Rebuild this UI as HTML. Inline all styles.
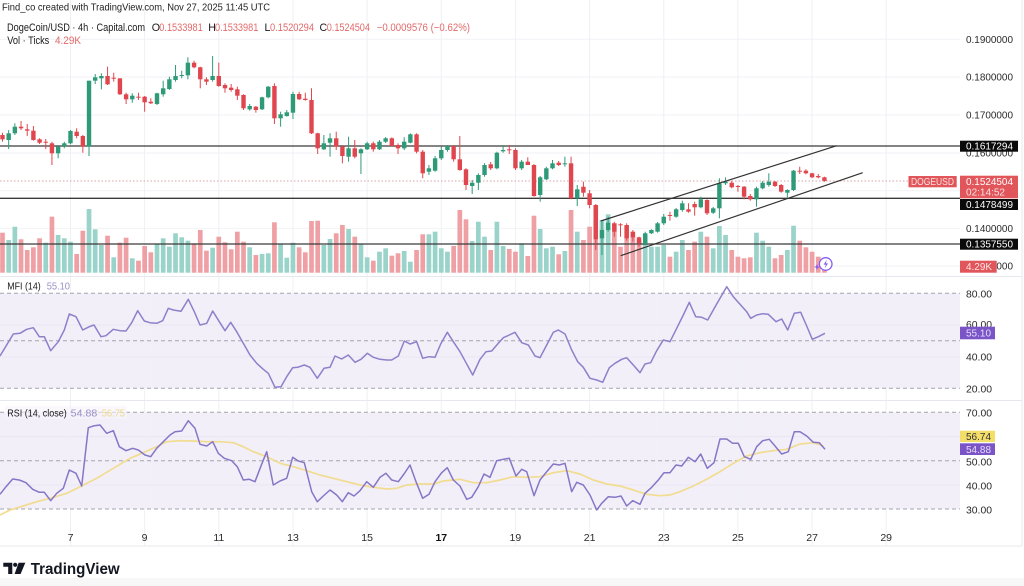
<!DOCTYPE html>
<html>
<head>
<meta charset="utf-8">
<style>
html,body{margin:0;padding:0;background:#fff;}
svg{display:block;}
text{font-family:"Liberation Sans",Arial,sans-serif;}
</style>
</head>
<body>
<svg id="s" width="1024" height="586" viewBox="0 0 1024 586" xmlns="http://www.w3.org/2000/svg">
  <rect x="0" y="0" width="1024" height="586" fill="#ffffff"/>
  <rect x="0" y="578" width="1024" height="8" fill="#f7f7f8"/>

  <!-- grid: main panel horizontal -->
  <g stroke="#f1f2f5" stroke-width="1">
    <line x1="0" y1="39.3" x2="960" y2="39.3"/>
    <line x1="0" y1="77" x2="960" y2="77"/>
    <line x1="0" y1="115" x2="960" y2="115"/>
    <line x1="0" y1="153" x2="960" y2="153"/>
    <line x1="0" y1="190.7" x2="960" y2="190.7"/>
    <line x1="0" y1="228.4" x2="960" y2="228.4"/>
    <line x1="0" y1="266" x2="960" y2="266"/>
  </g>

  <!-- MFI band -->
  <rect x="0" y="293.3" width="960" height="95" fill="#f2eff9"/>
  <!-- RSI band -->
  <rect x="0" y="412.3" width="960" height="96.7" fill="#f2eff9"/>

  <!-- faint sub grid inside bands -->
  <g stroke="#e9e6f3" stroke-width="1">
    <line x1="0" y1="325" x2="960" y2="325"/>
    <line x1="0" y1="357" x2="960" y2="357"/>
    <line x1="0" y1="436.6" x2="960" y2="436.6"/>
    <line x1="0" y1="485" x2="960" y2="485"/>
  </g>

  <!-- vertical grid -->
  <g stroke="#eef0f4" stroke-width="1">
    <line x1="70.5" y1="0" x2="70.5" y2="546"/>
    <line x1="144.6" y1="0" x2="144.6" y2="546"/>
    <line x1="218.8" y1="0" x2="218.8" y2="546"/>
    <line x1="293" y1="0" x2="293" y2="546"/>
    <line x1="367.1" y1="0" x2="367.1" y2="546"/>
    <line x1="441.3" y1="0" x2="441.3" y2="546"/>
    <line x1="515.4" y1="0" x2="515.4" y2="546"/>
    <line x1="589.6" y1="0" x2="589.6" y2="546"/>
    <line x1="663.8" y1="0" x2="663.8" y2="546"/>
    <line x1="737.9" y1="0" x2="737.9" y2="546"/>
    <line x1="812.1" y1="0" x2="812.1" y2="546"/>
    <line x1="886.2" y1="0" x2="886.2" y2="546"/>
  </g>

  <!-- panel separators -->
  <g stroke="#e6e8ee" stroke-width="1">
    <line x1="0" y1="276.5" x2="1022" y2="276.5"/>
    <line x1="0" y1="400.5" x2="1022" y2="400.5"/>
    <line x1="0" y1="546" x2="1022" y2="546"/>
    <line x1="1022" y1="0" x2="1022" y2="546"/>
  </g>

  <!-- dashed levels -->
  <g stroke="#a3a6b0" stroke-width="1" stroke-dasharray="4 3">
    <line x1="0" y1="293.3" x2="960" y2="293.3"/>
    <line x1="0" y1="340.8" x2="960" y2="340.8"/>
    <line x1="0" y1="388.3" x2="960" y2="388.3"/>
    <line x1="0" y1="412.3" x2="960" y2="412.3"/>
    <line x1="0" y1="460.7" x2="960" y2="460.7"/>
    <line x1="0" y1="509" x2="960" y2="509"/>
  </g>

  <!-- volumes and candles (filled by script) -->
  <g id="vol"></g>

  <!-- current price dotted line -->
  <line x1="0" y1="181" x2="908" y2="181" stroke="#d9a3a6" stroke-width="1" stroke-dasharray="1.5 2"/>

  <!-- horizontal levels -->
  <g stroke="#3a3a3a" stroke-width="1.3">
    <line x1="0" y1="146" x2="960" y2="146"/>
    <line x1="0" y1="198.3" x2="960" y2="198.3"/>
    <line x1="0" y1="244" x2="960" y2="244"/>
  </g>

  <g id="cdl"></g>

  <!-- channel -->
  <g stroke="#333" stroke-width="1.2">
    <line x1="600.7" y1="221" x2="836.7" y2="145.7"/>
    <line x1="620.7" y1="255.7" x2="862.7" y2="172.7"/>
  </g>

  <!-- MFI line -->
  <polyline fill="none" stroke="#8e80c9" stroke-width="1.5" stroke-linejoin="round" points="0,356 13.3,334 20,333.3 26.7,329.3 33.3,327.7 39.3,336.7 44.3,336.7 50.7,350.7 58.3,341.7 64.3,330 69.3,314 76,316.7 82.7,330 89.3,326.7 94,325 101,336.7 106,335.7 113.3,329.3 120,330.7 126,331 131.7,322.7 137.7,310.7 144.3,321 150,322.7 156.7,323.3 162.7,320.7 168.3,308.3 173.3,310 181,311.3 188.3,299.3 194.3,311.7 200,325 206.7,323.3 212.7,311 219.3,321.7 225,330.7 230.7,322.3 236.7,331.7 243.3,343.3 250,355 256.7,363.3 263.3,369.3 268.3,373.3 275,387.3 281,386.7 286.7,376.7 292.7,367.7 297.7,367.3 304.3,365 310,367.3 317.3,378.3 324,368.3 330,367.3 335,356 341.7,359 348.3,355 355,362.3 361,359.3 367.3,353.3 373.3,357.3 380,359.3 386.7,360 391.7,360 398.3,356 404.3,341 410,344 416.7,341.7 422.7,358.3 429,356.7 435,357.3 440.7,344 447.3,332.3 453.3,341.7 460,351.7 466,362.7 472.7,375 480,359.3 486,351.7 491.7,351 498.3,343.3 503.3,337.7 509.3,335 515,332.3 521.7,342.7 528.3,345 535,356 540,357.7 546.7,345 553.3,332.3 558.3,330 565,334 571.7,350 577.7,361.7 583.3,367.3 590,378.3 596.7,380 602.7,382.3 609.3,367.7 615,363.3 621.7,359.3 626.7,357.7 633.3,365 640,372.7 645,364 650.7,362.7 656.7,350.7 663.3,340 670,341.7 676.7,328.3 683.3,315 689.3,302.3 695.7,316.7 701.7,317.3 707.7,320 713.3,310 720,298.3 726.7,286.7 733.3,296.7 740,304.3 746.7,311.7 750.7,318.3 756.7,315 762.7,313.7 768.3,314.3 776,321.7 781.7,319 787.7,330 794.3,313.3 800.7,312.3 806.7,326 812.3,339.3 818.3,336.7 825,333.3"/>

  <!-- RSI MA (yellow) -->
  <polyline fill="none" stroke="#f1dc90" stroke-width="1.7" stroke-linejoin="round" points="0,515 10,510 23.3,506 36.7,501.7 50,498.3 66.7,493.3 81.7,486 96.7,478.3 113.3,468.3 130,458.3 143.3,452.7 156.7,446.7 166.7,441.7 180,440.7 193.3,441 206.7,441.7 220,441.7 233.3,442.7 243.3,446.7 253.3,451.7 266.7,456.7 280,463.3 293.3,466.7 306.7,470.7 320,475 333.3,478.3 346.7,481.7 360,485 373.3,487.3 386.7,489 396.7,488.3 406.7,485 420,484 433.3,484 443.3,481 453.3,480 460,479.3 473.3,482.7 486.7,482.7 500,480 513.3,476.7 526.7,477.3 540,476.7 553.3,472.7 566.7,470.7 580,474 593.3,480 606.7,484 620,486 633.3,490 646.7,494.3 660,495.7 670,495 680,491.7 693.3,486 706.7,479.3 720,471.7 733.3,463.3 746.7,456 760,452.7 773.3,450.7 786.7,449.3 800,444 813.3,442.7 823.3,446"/>

  <!-- RSI line -->
  <polyline fill="none" stroke="#8676c6" stroke-width="1.5" stroke-linejoin="round" points="0,494.3 6,486.7 12.7,479 19.3,480 26,482.7 32.7,489.3 39.3,492.3 44.3,492.3 50.7,500.7 56.7,493.3 63.3,488.3 69.3,470 76,473.3 81.7,486 88.3,427.7 94.3,425.7 100,425 106.7,433.3 113.3,430.7 119.3,446.7 126,450.7 132.7,448.3 138.3,450 145,455 150.7,456.7 156.7,448.3 163.3,441.7 170,435 175,431.7 181.7,431 188.3,420.7 195,428.3 200,444.3 206.7,446 212.7,441.7 218.3,453.3 224.3,458.3 231.7,460.7 237.3,466.7 243.3,480 249.3,479.3 255,481.7 260.7,466.7 266.7,451.7 273.3,485 280,481 286.7,478.3 292.7,457.3 298.3,461 304.3,462.7 311.7,491.7 317.3,501.7 323.3,496 330,490 336.7,495 342.3,501.7 348.3,492.7 354,496 360,490.7 366.7,481.7 373.3,487.3 380,477.3 386,473.3 391.7,480 398.3,481.7 404,474 410,465 416,481.7 422.7,498.3 429,494.3 435,481.7 441.7,472.7 447.3,467.7 453.3,480 460,486 466.7,499.3 471.7,497.3 478.3,486.7 484,474 490,477.3 496.7,460.7 503.3,459.3 509.3,458.3 516,476 521.7,469.3 526.7,471.7 534,495.7 540,480 546.7,471.7 553.3,464 559.3,465 565,463.3 571.7,491.7 576.7,482.3 583.3,485 590,495 596.7,510 601.7,503.3 608.3,496.7 615,497.3 621,496 626.7,506 632.7,500.7 640,504.3 645,493.3 651.7,487.3 658.3,480 664,472.7 670,472.7 676,465 681.7,466 688.3,457.3 695,461.7 700.7,454 707.3,468.3 714,462.7 720,439 726.7,439 732.7,443.3 738.3,443.3 744.3,456.7 750.7,459.3 756.7,446.7 762.7,440.7 769.3,439.3 775,446 781.7,454 788.3,451.7 794.3,431.7 800,431.7 806.7,436 813.3,442.3 819.3,442.7 825,449.3"/>

  <!-- lightning icon -->
  <circle cx="825.7" cy="264" r="6.3" fill="#ffffff" stroke="#8a5cf0" stroke-width="1.3"/>
  <path d="M826.8,259.8 L823.6,264.6 L825.8,264.6 L824.8,268.4 L828,263.4 L825.9,263.4 Z" fill="#8a5cf0"/>
  <path d="M817,264 L817.8,266.2 L820,267 L817.8,267.8 L817,270 L816.2,267.8 L814,267 L816.2,266.2 Z" fill="#8a5cf0"/>

  <!-- header -->
  <text x="2" y="10.3" font-size="10.4" fill="#222" textLength="268" lengthAdjust="spacingAndGlyphs">Find_co created with TradingView.com, Nov 27, 2025 11:45 UTC</text>
  <text x="7" y="30.8" font-size="10.6" fill="#1a1a1a" textLength="138" lengthAdjust="spacingAndGlyphs">DogeCoin/USD · 4h · Capital.com</text>
  <text x="151.7" y="30.8" font-size="10.6" fill="#1a1a1a">O</text>
  <text x="159.3" y="30.8" font-size="10.6" fill="#e26a6a" textLength="43.4" lengthAdjust="spacingAndGlyphs">0.1533981</text>
  <text x="208.3" y="30.8" font-size="10.6" fill="#1a1a1a">H</text>
  <text x="215" y="30.8" font-size="10.6" fill="#e26a6a" textLength="43.3" lengthAdjust="spacingAndGlyphs">0.1533981</text>
  <text x="264.5" y="30.8" font-size="10.6" fill="#1a1a1a">L</text>
  <text x="270" y="30.8" font-size="10.6" fill="#e26a6a" textLength="44" lengthAdjust="spacingAndGlyphs">0.1520294</text>
  <text x="319.5" y="30.8" font-size="10.6" fill="#1a1a1a">C</text>
  <text x="326.7" y="30.8" font-size="10.6" fill="#e26a6a" textLength="43.3" lengthAdjust="spacingAndGlyphs">0.1524504</text>
  <text x="376.7" y="30.8" font-size="10.6" fill="#e26a6a" textLength="93.3" lengthAdjust="spacingAndGlyphs">−0.0009576 (−0.62%)</text>
  <text x="7.3" y="44" font-size="10.6" fill="#1a1a1a" textLength="42" lengthAdjust="spacingAndGlyphs">Vol · Ticks</text>
  <text x="55" y="44" font-size="10.6" fill="#e26a6a" textLength="26" lengthAdjust="spacingAndGlyphs">4.29K</text>

  <!-- panel titles -->
  <text x="7.3" y="289.5" font-size="10.5" fill="#1a1a1a" textLength="33.4" lengthAdjust="spacingAndGlyphs">MFI (14)</text>
  <text x="46.7" y="289.5" font-size="10.5" fill="#9a8fc4" textLength="23.3" lengthAdjust="spacingAndGlyphs">55.10</text>
  <rect x="5" y="406" width="122" height="13" fill="#f6f4fb" opacity="0.6"/>
  <text x="7.3" y="416.5" font-size="10.5" fill="#1a1a1a" textLength="59.4" lengthAdjust="spacingAndGlyphs">RSI (14, close)</text>
  <text x="70.7" y="416.5" font-size="10.5" fill="#9a8fc4" textLength="26.6" lengthAdjust="spacingAndGlyphs">54.88</text>
  <text x="101.7" y="416.5" font-size="10.5" fill="#ecd88a" textLength="23.3" lengthAdjust="spacingAndGlyphs">56.75</text>

  <!-- right price axis -->
  <g font-size="10.5" fill="#2a2a2a">
    <text x="966" y="43" textLength="47" lengthAdjust="spacingAndGlyphs">0.1900000</text>
    <text x="966" y="80.7" textLength="47" lengthAdjust="spacingAndGlyphs">0.1800000</text>
    <text x="966" y="118.7" textLength="47" lengthAdjust="spacingAndGlyphs">0.1700000</text>
    <text x="966" y="156.7" textLength="47" lengthAdjust="spacingAndGlyphs">0.1600000</text>
    <text x="966" y="232" textLength="47" lengthAdjust="spacingAndGlyphs">0.1400000</text>
    <text x="966" y="269.7" textLength="47" lengthAdjust="spacingAndGlyphs">0.1300000</text>
  </g>
  <rect x="960" y="140.7" width="58" height="11" fill="#0b0b0b"/>
  <text x="966" y="149.6" font-size="10.5" fill="#fff" textLength="47" lengthAdjust="spacingAndGlyphs">0.1617294</text>
  <rect x="908.5" y="176" width="48.2" height="11.3" fill="#e0565b"/>
  <text x="911" y="185" font-size="10.5" fill="#fbe0e0" textLength="43" lengthAdjust="spacingAndGlyphs">DOGEUSD</text>
  <rect x="960" y="175.7" width="58" height="22.6" fill="#e0565b"/>
  <text x="966" y="185" font-size="10.5" fill="#fff" textLength="47" lengthAdjust="spacingAndGlyphs">0.1524504</text>
  <text x="966" y="195.5" font-size="10.5" fill="#fbe0e0" textLength="39" lengthAdjust="spacingAndGlyphs">02:14:52</text>
  <rect x="960" y="199" width="58" height="11" fill="#0b0b0b"/>
  <text x="966" y="208" font-size="10.5" fill="#fff" textLength="47" lengthAdjust="spacingAndGlyphs">0.1478499</text>
  <rect x="960" y="238.7" width="58" height="11" fill="#0b0b0b"/>
  <text x="966" y="247.6" font-size="10.5" fill="#fff" textLength="47" lengthAdjust="spacingAndGlyphs">0.1357550</text>
  <rect x="960" y="260.7" width="36.7" height="12" fill="#e0565b"/>
  <text x="966" y="270.2" font-size="10.5" fill="#fde4e4" textLength="26" lengthAdjust="spacingAndGlyphs">4.29K</text>

  <!-- MFI axis -->
  <g font-size="10.5" fill="#2a2a2a">
    <text x="966" y="297.5" textLength="26" lengthAdjust="spacingAndGlyphs">80.00</text>
    <text x="966" y="328" textLength="26" lengthAdjust="spacingAndGlyphs">60.00</text>
    <text x="966" y="360.5" textLength="26" lengthAdjust="spacingAndGlyphs">40.00</text>
    <text x="966" y="392.5" textLength="26" lengthAdjust="spacingAndGlyphs">20.00</text>
  </g>
  <rect x="960" y="326.7" width="35" height="12.6" fill="#7b55c7"/>
  <text x="966" y="336.5" font-size="10.5" fill="#e6ddfa" textLength="25" lengthAdjust="spacingAndGlyphs">55.10</text>

  <!-- RSI axis -->
  <g font-size="10.5" fill="#2a2a2a">
    <text x="966" y="416.5" textLength="26" lengthAdjust="spacingAndGlyphs">70.00</text>
    <text x="966" y="465.5" textLength="26" lengthAdjust="spacingAndGlyphs">50.00</text>
    <text x="966" y="489.5" textLength="26" lengthAdjust="spacingAndGlyphs">40.00</text>
    <text x="966" y="513.5" textLength="26" lengthAdjust="spacingAndGlyphs">30.00</text>
  </g>
  <rect x="960" y="430.7" width="35" height="11.4" fill="#f3de6a"/>
  <text x="966" y="440" font-size="10.5" fill="#333" textLength="25" lengthAdjust="spacingAndGlyphs">56.74</text>
  <rect x="960" y="443.3" width="35" height="11.7" fill="#7b55c7"/>
  <text x="966" y="452.8" font-size="10.5" fill="#e6ddfa" textLength="25" lengthAdjust="spacingAndGlyphs">54.88</text>

  <!-- time axis -->
  <g font-size="10.5" fill="#2a2a2a" text-anchor="middle">
    <text x="70.5" y="540.8">7</text>
    <text x="144.6" y="540.8">9</text>
    <text x="218.8" y="540.8">11</text>
    <text x="293" y="540.8">13</text>
    <text x="367.1" y="540.8">15</text>
    <text x="441.3" y="540.8" font-weight="bold" fill="#111">17</text>
    <text x="515.4" y="540.8">19</text>
    <text x="589.6" y="540.8">21</text>
    <text x="663.8" y="540.8">23</text>
    <text x="737.9" y="540.8">25</text>
    <text x="812.1" y="540.8">27</text>
    <text x="886.2" y="540.8">29</text>
  </g>

  <!-- TradingView logo -->
  <g fill="#131722">
    <path d="M3.3,562.7 H12.3 V574 H8.2 V566.8 H3.3 Z"/>
    <circle cx="15.2" cy="564.8" r="2.1"/>
    <path d="M18.6,562.7 H25.3 L20.6,574 H14.6 Z"/>
  </g>
  <text x="30.7" y="574" font-size="15.5" font-weight="bold" fill="#131722" textLength="89" lengthAdjust="spacingAndGlyphs">TradingView</text>
</svg>

<script>
(function(){
var NS="http://www.w3.org/2000/svg";
var C=[
[135,139.3,132.7,141.7,0],[133.3,140,130,149,1],[126.7,133.3,123.3,135,1],[126.7,128.3,121,130,0],[129.3,130.7,124,136,0],
[130.7,140,126,140.7,0],[139.3,142.7,138.3,144,0],[141.7,142.7,139,149,0],[143.3,153.3,141.7,165,0],[146.7,153.3,145,158.3,1],
[143.3,146,141.7,148.3,1],[131,143.3,130,144.3,1],[131.7,136,128.3,138.3,0],[136,146.7,135,152.7,0],[80.7,146.7,80.7,156,1],
[77.3,80.7,74,84,1],[76,78.3,73.3,89.3,1],[76,84.3,66.7,85,0],[77.7,78.7,72.7,81.7,0],[78.3,94.3,78.3,95,0],
[94.3,99.3,92.7,104,0],[95.7,99.3,93.3,102.7,1],[96.7,97.3,92.7,100,0],[96.7,102.3,96,111.7,0],[101.7,103.3,98.3,104,0],
[93.3,104,92.7,105,1],[88.3,94.3,80.7,96.7,1],[79.3,89,76.7,90,1],[76,80,65,81.7,1],[75,76,70.7,78.3,1],
[62.7,75.3,57.3,79.3,1],[62.7,67.3,60.7,68.3,0],[67.3,79.3,66.7,88.3,0],[79.3,81.7,77.3,85,0],[76,80,56,81.7,1],
[76,86,62.7,86.7,0],[85,88.3,83.3,92.7,0],[87.7,90,84,91.7,0],[89.3,95.7,86.7,100,0],[95,108.3,94.3,110,0],
[106,109.3,104,110.7,1],[106.7,110,106,112.7,0],[97.3,109.3,96.7,110,1],[86.7,97.3,86,98.3,1],[86,118.3,83.3,124,0],
[114.3,118.3,111.7,126.7,1],[112.3,116,110,116.7,1],[94,112.7,91.7,119,1],[94,99.3,91.7,100,0],[98.7,100,92.7,100.7,0],
[100,133.3,88.3,134,0],[133.3,148.3,132.7,154,0],[143.3,149.3,135,150,1],[138.3,142.7,133.3,156.7,1],[138.3,146.7,131.7,150,0],
[146.7,156,145,163.3,0],[148.3,156.7,136.7,161.7,1],[148.3,156.7,140,158.3,0],[149.3,153.3,148.3,174,1],[143.3,149.3,141.7,150,1],
[143.3,149.3,141.7,151.7,0],[141.7,149.3,140,150,1],[138.3,141.7,137,143,1],[138.3,146,137.3,146.7,0],[145,148.3,143.3,154,0],
[141.7,148.3,137.3,150,1],[134.3,142.7,133.3,143.3,1],[134.3,151.7,133.3,153.3,0],[151.7,173.3,150,178.3,0],[168.3,171.7,165,175,1],
[158.3,170.7,156,171.7,1],[150,158.3,146.7,160,1],[146,150,145,151.7,1],[146,159.3,145,161.7,0],[159.3,170,136,170.7,0],
[169.3,185,168.3,190,0],[182.7,186,180,194,1],[175,182.7,173.3,190,1],[165,175,163.3,176.7,1],[164.3,168.3,162,170,0],
[152.7,168.3,151.7,169.3,1],[150,151.3,145,152.7,1],[149.3,150,145,154,0],[150,168.3,148.3,170,0],[161.7,168.3,160,170,1],
[161.7,165,157.3,165,0],[165,196,164,196.7,0],[177.3,195,176,201.7,1],[168.3,179.3,166.7,180,1],[163.3,168.3,160,169.3,1],
[162.7,165,161,166,0],[163.3,164.3,156.7,166.7,1],[163.3,198.3,156.7,199.3,0],[189.3,198.3,185,206,1],[186.7,192.7,181.7,196.7,0],
[193.3,205,190,208.3,0],[205,239.3,204,250,0],[230,238.3,221.7,255,1],[222.7,230,216.7,231.7,1],[223.3,231.7,221.7,236.7,0],
[224.3,225,223.3,236.7,0],[225,238.3,223.3,240.7,0],[231.7,237.3,230,241.7,0],[237.3,243.3,236.7,246.7,0],[233.3,244,231.7,245,1],
[230,233.3,229.3,234,1],[223.3,231.7,222,232.7,1],[216.7,223.3,214,225,1],[215,216,211.7,220.7,0],[209.3,216.7,208,217.7,1],
[203.3,210,200.7,211.7,1],[209.3,211.7,203.3,212.7,0],[204,207.3,201.7,215.7,0],[199.3,207.3,196.7,208.3,1],[200,213.3,199.3,215,0],
[208.3,212.7,207,214,1],[183.3,208.3,178.3,218.3,1],[181.7,183.3,177.3,185,1],[182.7,187.3,180.7,188.3,0],[186,186.7,185,191.7,0],
[186.7,196.7,186,199.3,0],[196,199.3,194,200.7,0],[188.3,199.3,186.7,206.7,1],[182.7,188.3,181,189.3,1],[181.7,185,173.3,186.7,1],
[181.7,186,181,187,0],[185,191.7,184,192.7,0],[190,192.7,189.3,197.3,1],[170.7,190,170,191,1],[170.7,171.7,166.7,174,0],
[170.7,173.3,169.3,174.3,0],[173.3,177.3,172.7,178,0],[176,177.3,174,178.3,0],[177.3,180.9,176.7,181.7,0]
];
var V=[
[232.7,0],[240,1],[226.7,1],[239.3,0],[250,0],[247.3,0],[238.3,0],[242.7,1],[216.7,0],[235,1],
[238.3,1],[241.7,1],[254,0],[230.7,0],[209,1],[229.3,1],[245,1],[235.7,0],[257.3,1],[242.7,0],
[237.7,0],[258.3,1],[260.7,0],[246,0],[252.3,0],[244,1],[238.3,1],[246.7,1],[233.3,1],[237.3,1],
[240.7,1],[243.3,0],[230,0],[250.7,0],[247.7,1],[236.7,0],[242.3,0],[249.3,0],[231.7,0],[241.7,0],
[247.3,1],[255,0],[254,1],[253.3,1],[222.3,0],[244.3,1],[257.7,1],[242.7,1],[247.3,0],[252.3,0],
[221,0],[220.7,0],[245,1],[239,1],[233.3,0],[225,0],[229,1],[236.7,0],[244.3,1],[257.3,1],
[260.7,0],[251.7,1],[248.3,1],[255.7,0],[253.3,0],[251,1],[261.7,1],[250,0],[234.3,0],[234.3,1],
[231.7,1],[248.3,1],[251.7,1],[246,0],[210,0],[219.3,0],[241,1],[221.7,1],[236.7,1],[250,0],
[221.7,1],[246,1],[249,0],[251.7,0],[243.3,1],[256,0],[215.7,0],[229,1],[248.3,1],[246.7,1],
[254.3,0],[251,1],[210,0],[231.7,1],[240,0],[226.7,0],[205,0],[220,1],[214.3,1],[223.3,0],
[246.7,0],[225.7,0],[232.7,0],[239.3,0],[235,1],[246.7,1],[246.7,1],[245,1],[256.7,0],[251.7,1],
[240,1],[250,0],[241.7,0],[231.7,1],[236.7,0],[248.3,1],[226,1],[235,1],[250,0],[256.7,0],
[258.3,0],[257.3,0],[232.7,1],[240.7,1],[246.7,1],[258.3,0],[255,0],[250,1],[225.7,1],[240.7,0],
[247.3,0],[251.7,0],[256.7,0],[263.3,0]
];
var UP="#2e9a78",DN="#e0464e",VUP="#9ad3c9",VDN="#efa0a4";
var vg=document.getElementById("vol"),cg=document.getElementById("cdl");
function el(tag,attrs,parent){var e=document.createElementNS(NS,tag);for(var k in attrs)e.setAttribute(k,attrs[k]);parent.appendChild(e);return e;}
var BOT=272.7;
for(var i=0;i<V.length;i++){
  var x=2.5+6.18*i;
  el("rect",{x:(x-2.35).toFixed(2),y:V[i][0],width:4.7,height:(BOT-V[i][0]).toFixed(2),fill:V[i][1]?VUP:VDN},vg);
}
for(var i=0;i<C.length;i++){
  var d=C[i],x=2.5+6.18*i,col=d[4]?UP:DN;
  el("line",{x1:x.toFixed(2),y1:d[2],x2:x.toFixed(2),y2:d[3],stroke:col,"stroke-width":1},cg);
  var h=Math.max(1,d[1]-d[0]);
  el("rect",{x:(x-2.2).toFixed(2),y:d[0],width:4.4,height:h.toFixed(2),fill:col},cg);
}
})();
</script>
</body>
</html>
